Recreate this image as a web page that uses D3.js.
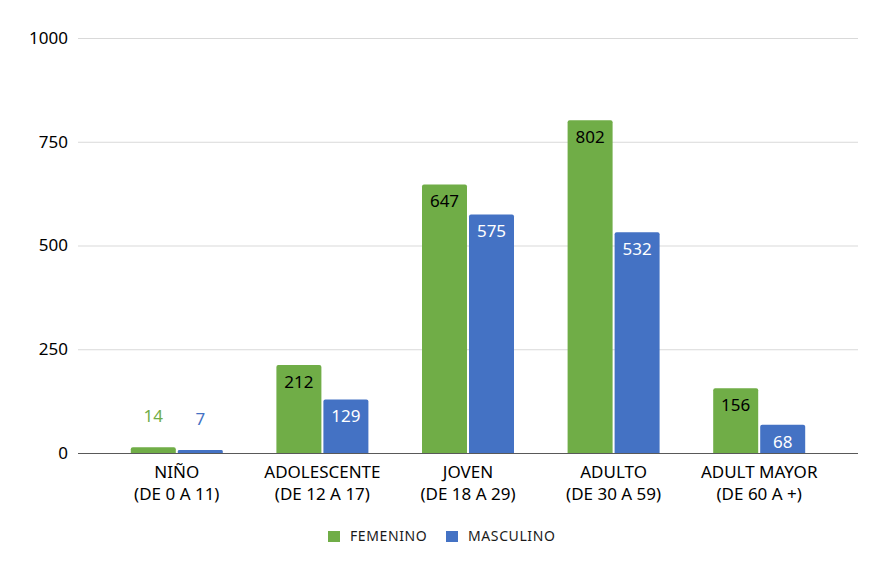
<!DOCTYPE html>
<html>
<head>
<meta charset="utf-8">
<script src="https://cdn.jsdelivr.net/npm/d3@7"></script>
<style>
  body { margin: 0; background: #fff; }
  text { font-family: "Noto Sans", sans-serif; }
</style>
</head>
<body>
<div id="chart"></div>
<script>
// chart data
var categories = [["NIÑO", "(DE 0 A 11)"], ["ADOLESCENTE", "(DE 12 A 17)"], ["JOVEN", "(DE 18 A 29)"], ["ADULTO", "(DE 30 A 59)"], ["ADULT MAYOR", "(DE 60 A +)"]];
var seriesNames = ["FEMENINO", "MASCULINO"];
var femenino = [14, 212, 647, 802, 156];
var masculino = [7, 129, 575, 532, 68];
var yTicks = [0, 250, 500, 750, 1000];

var colors = ["#70AD47", "#4472C4"];
var labelColors = ["#000", "#fff"];

var svgWidth = 886;
var svgHeight = 575;

var svg = d3.select("#chart")
  .append("svg")
  .attr("width", svgWidth)
  .attr("height", svgHeight);

// plot area
var gridLeft = 78, gridRight = 858;
var plotTop = 38, plotBottom = 453;

var yScale = d3.scaleLinear().domain([0, 1000]).range([plotBottom, plotTop]);

var xScale = d3.scaleBand()
  .domain(d3.range(categories.length))
  .range([gridLeft + 26, gridRight - 26]);

var barW = 45, gap = 2;

// gridlines
svg.append("g")
  .selectAll("line")
  .data(yTicks.filter(d => d > 0))
  .enter()
  .append("line")
  .attr("x1", gridLeft)
  .attr("x2", gridRight)
  .attr("y1", d => yScale(d) + 0.5)
  .attr("y2", d => yScale(d) + 0.5)
  .attr("stroke", "#d9d9d9")
  .attr("stroke-width", 1);

// y axis labels
var leftAxis = d3.axisLeft(yScale)
  .tickValues(yTicks)
  .tickFormat(d3.format("d"))
  .tickSize(0)
  .tickPadding(10);
var yAxis = svg.append("g")
  .attr("transform", `translate(${gridLeft}, 0)`)
  .call(leftAxis);
yAxis.select(".domain").remove();
yAxis.selectAll("text")
  .attr("font-size", "17px")
  .attr("fill", "#000")
  .style("font-family", "Noto Sans");

// bars
var series = [femenino, masculino];
series.forEach(function(vals, s) {
  var g = svg.append("g");
  g.selectAll("path")
    .data(vals)
    .enter()
    .append("path")
    .attr("d", function(d, i) {
      var cx = xScale(i) + xScale.bandwidth() / 2;
      var x0 = s === 0 ? cx - gap / 2 - barW : cx + gap / 2;
      var y0 = yScale(d), r = Math.min(2, (plotBottom - y0) / 2);
      return `M${x0},${plotBottom}V${y0 + r}Q${x0},${y0} ${x0 + r},${y0}H${x0 + barW - r}Q${x0 + barW},${y0} ${x0 + barW},${y0 + r}V${plotBottom}Z`;
    })
    .attr("fill", colors[s]);

  g.selectAll("text")
    .data(vals)
    .enter()
    .append("text")
    .attr("x", function(d, i) {
      var cx = xScale(i) + xScale.bandwidth() / 2;
      return s === 0 ? cx - gap / 2 - barW / 2 : cx + gap / 2 + barW / 2;
    })
    .attr("y", d => d < 50 ? yScale(d) - 31 : yScale(d) + 17)
    .attr("dy", "0.35em")
    .attr("text-anchor", "middle")
    .attr("font-size", "17px")
    .attr("fill", d => d < 50 ? colors[s] : labelColors[s])
    .text(d => d);
});

// baseline
svg.append("line")
  .attr("x1", gridLeft)
  .attr("x2", gridRight)
  .attr("y1", plotBottom + 0.5)
  .attr("y2", plotBottom + 0.5)
  .attr("stroke", "#595959")
  .attr("stroke-width", 1);

// category labels
var catG = svg.append("g");
categories.forEach(function(lines, i) {
  var cx = xScale(i) + xScale.bandwidth() / 2;
  lines.forEach(function(line, j) {
    catG.append("text")
      .attr("x", cx)
      .attr("y", 472 + j * 22)
      .attr("dy", "0.35em")
      .attr("text-anchor", "middle")
      .attr("font-size", "17px")
      .attr("fill", "#000")
      .text(line);
  });
});

// legend
var legendX = [328, 446];
var legend = svg.append("g");
seriesNames.forEach(function(name, s) {
  legend.append("rect")
    .attr("x", legendX[s])
    .attr("y", 531)
    .attr("width", 12)
    .attr("height", 11)
    .attr("fill", colors[s]);
  legend.append("text")
    .attr("x", legendX[s] + 22)
    .attr("y", 536.5)
    .attr("dy", "0.35em")
    .attr("font-size", "14px")
    .attr("letter-spacing", "0.6px")
    .attr("fill", "#1a1a1a")
    .text(name);
});
</script>
</body>
</html>
